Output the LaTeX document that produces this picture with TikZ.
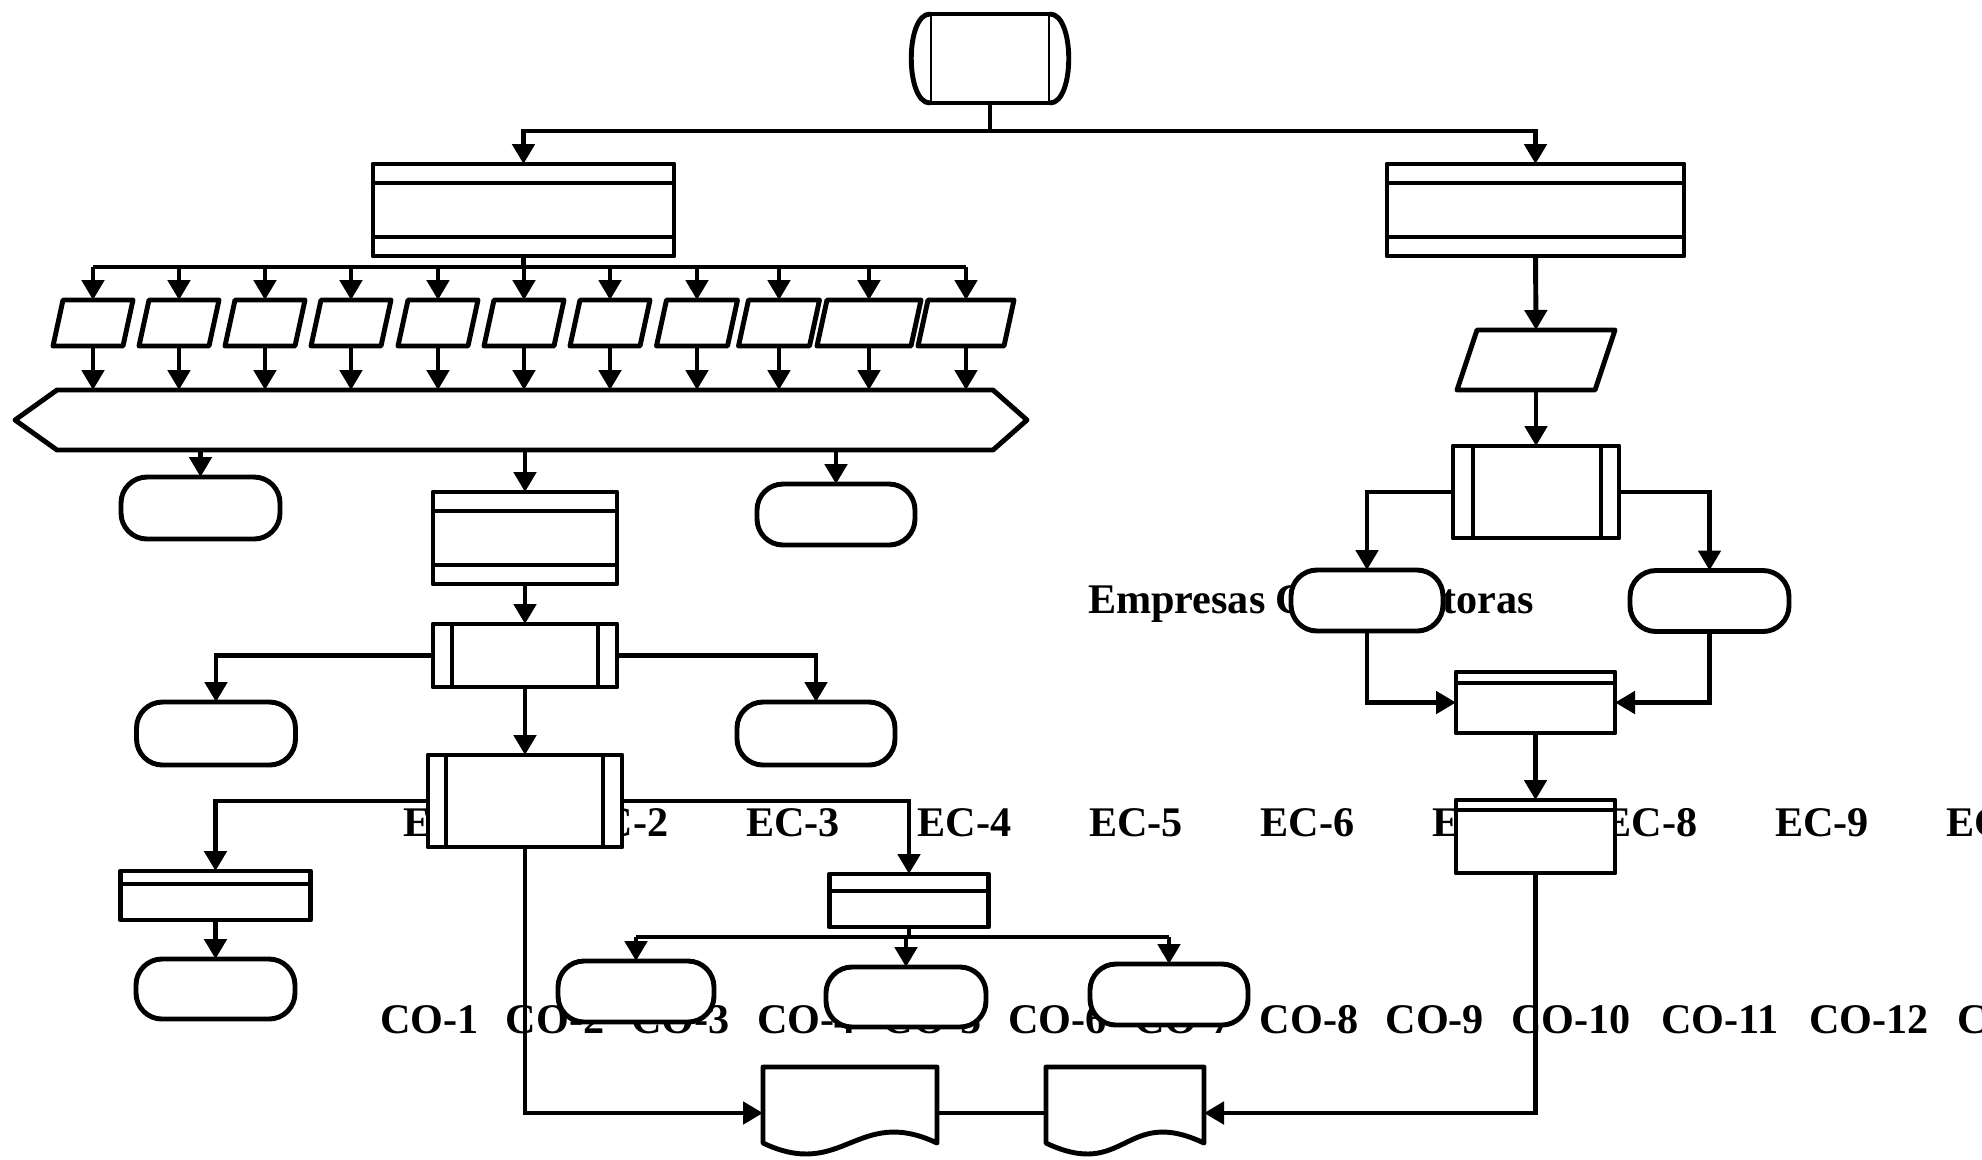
\documentclass[tikz,border=0pt]{standalone}
\usepackage{fontspec}
\setmainfont{Liberation Serif}
\usetikzlibrary{arrows.meta,calc}
\newcommand\lblfont{\bfseries\fontsize{12pt}{14pt}\selectfont}
\begin{document}
\begin{tikzpicture}[x=0.01cm,y=-0.01cm,
  ln/.style={line width=1.4pt},
  shp/.style={draw, fill=white, line width=1.4pt, line join=round, inner sep=0pt, outer sep=0pt, rectangle},
  term/.style={shp, rounded corners=0.26cm},
  ghost/.style={inner sep=0pt, outer sep=0pt, rectangle, draw=none},
  sz/.style 2 args={minimum width=#1*0.01cm, minimum height=#2*0.01cm},
  arr/.style={line width=1.4pt, -{Triangle[width=0.22cm,length=0.2cm]}},
  lbl/.style={inner sep=0pt, outer sep=0pt, anchor=base west, font=\lblfont},
  outl/.style={line width=1.4pt, line join=round, draw, fill=white}]
\useasboundingbox (0,0) rectangle (1982,1159);
\clip (0,0) rectangle (1982,1159);
\fill[white] (0,0) rectangle (1982,1159);

% ---------- background texts ----------
\foreach \i/\x in {1/403,2/574.5,3/746,4/917.5,5/1089,6/1260.5,7/1432,8/1603.5,9/1775,10/1946.5}
  \node[lbl] (ec\i) at (\x,836) {EC-\i};
\foreach \i/\x in {1/380,2/505.7,3/631.4,4/757.1,5/882.8,6/1008.5,7/1134.2,8/1259.9,9/1385.6,10/1511.3,11/1661,12/1809,13/1957}
  \node[lbl] (co\i) at (\x,1033) {CO-\i};
\node[lbl] (emp) at (1088,613) {Empresas Constructoras};

% ---------- shapes ----------
% top storage-like shape
\node[shp, sz={120}{89}] (T) at (990,58.5) {};
\draw[outl] (T.north west) .. controls +(-25,0) and +(-25,0) .. (T.south west);
\draw[outl] (T.north east) .. controls +(25,0) and +(25,0) .. (T.south east);

% big boxes A and B
\node[shp, sz={301}{92}] (A) at (523.5,210) {};
\node[shp, sz={297}{92}] (B) at (1535.5,210) {};
\foreach \n in {A,B}{
  \draw[ln] ($(\n.north west)+(0,19)$) -- ($(\n.north east)+(0,19)$);
  \draw[ln] ($(\n.south west)+(0,-19)$) -- ($(\n.south east)+(0,-19)$);
}

% parallelograms
\foreach \i/\x/\w in {1/93/80,2/179/80,3/265/80,4/351/80,5/438/80,6/524/80,7/610/80,8/697/81,9/779/81,10/869/104,11/966/96}{
  \node[ghost, sz={\w}{46}] (p\i) at (\x,323) {};
  \draw[outl] (p\i.south west) -- ($(p\i.north west)+(10,0)$) -- (p\i.north east) -- ($(p\i.south east)+(-10,0)$) -- cycle;
}

% hexagon
\node[ghost, sz={936}{60}] (hex) at (525,420) {};
\draw[outl] (hex.north west) -- (hex.north east) -- ($(hex.east)+(34,0)$) -- (hex.south east) -- (hex.south west) -- ($(hex.west)+(-42,0)$) -- cycle;

% terminators left side
\node[term, sz={159}{62}] (L1) at (200.5,508) {};
\node[term, sz={158}{61}] (R1) at (836,514.5) {};
\node[term, sz={159}{63}] (L2) at (216,733.5) {};
\node[term, sz={158}{63}] (R2) at (816,733.5) {};
\node[term, sz={159}{60}] (L3) at (215.5,989) {};
\node[term, sz={156}{61}] (G1) at (636,991.5) {};
\node[term, sz={160}{60}] (G2) at (906,997) {};
\node[term, sz={158}{61}] (G3) at (1169,994.5) {};

% box C
\node[shp, sz={184}{92}] (C) at (525,538) {};
\draw[ln] ($(C.north west)+(0,19)$) -- ($(C.north east)+(0,19)$);
\draw[ln] ($(C.south west)+(0,-19)$) -- ($(C.south east)+(0,-19)$);

% predefined processes D and E
\node[shp, sz={184}{63}] (D) at (525,655.5) {};
\draw[ln] ($(D.north west)+(19,0)$) -- ($(D.south west)+(19,0)$);
\draw[ln] ($(D.north east)+(-19,0)$) -- ($(D.south east)+(-19,0)$);
\node[shp, sz={194}{92}] (E) at (525,801) {};
\draw[ln] ($(E.north west)+(18,0)$) -- ($(E.south west)+(18,0)$);
\draw[ln] ($(E.north east)+(-19,0)$) -- ($(E.south east)+(-19,0)$);

% boxes F and G
\node[shp, sz={190}{49}] (F) at (215.5,895.5) {};
\draw[ln] ($(F.north west)+(0,13)$) -- ($(F.north east)+(0,13)$);
\node[shp, sz={159}{53}] (G) at (909,900.5) {};
\draw[ln] ($(G.north west)+(0,17)$) -- ($(G.north east)+(0,17)$);

% documents
\node[ghost, sz={174}{92}] (H) at (850,1113) {};
\node[ghost, sz={158}{92}] (I) at (1125,1113) {};
\foreach \n in {H,I}{
  \draw[outl] (\n.north west) -- ($(\n.north west)+(0,76)$)
    .. controls +(80,38) and +(-80,-38) .. ($(\n.north east)+(0,76)$) -- (\n.north east) -- cycle;
}

% right branch
\node[ghost, sz={158}{60}] (P) at (1536,360) {};
\draw[outl] (P.south west) -- ($(P.north west)+(20,0)$) -- (P.north east) -- ($(P.south east)+(-20,0)$) -- cycle;
\node[shp, sz={166}{92}] (Q) at (1536,492) {};
\draw[ln] ($(Q.north west)+(20,0)$) -- ($(Q.south west)+(20,0)$);
\draw[ln] ($(Q.north east)+(-18,0)$) -- ($(Q.south east)+(-18,0)$);
\node[term, sz={152}{61}] (TR1) at (1367,600.5) {};
\node[term, sz={159}{61}] (TR2) at (1709.5,601) {};
\node[shp, sz={159}{61}] (R) at (1535.5,702.5) {};
\draw[ln] ($(R.north west)+(0,11)$) -- ($(R.north east)+(0,11)$);
\node[shp, sz={159}{73}] (S) at (1535.5,836.5) {};
\draw[ln] ($(S.north west)+(0,10)$) -- ($(S.north east)+(0,10)$);

% ---------- connectors ----------
\coordinate (j0) at (990,131);
\draw[ln] (T.south) -- (j0);
\draw[arr] (j0) -| (A.north);
\draw[arr] (j0) -| (B.north);

\coordinate (j1) at (524,267);
\draw[ln] (A.south) -- (A.south |- j1);
\draw[ln] (p1.north |- j1) -- (p11.north |- j1);
\foreach \i in {1,...,11}{
  \draw[arr] (p\i.north |- j1) -- (p\i.north);
  \draw[arr] (p\i.south) -- (p\i.south |- hex.north);
}

\draw[arr] (L1.north |- hex.south) -- (L1.north);
\draw[arr] (C.north |- hex.south) -- (C.north);
\draw[arr] (R1.north |- hex.south) -- (R1.north);

\draw[arr] (C.south) -- (D.north);
\draw[arr] (D.west) -| (L2.north);
\draw[arr] (D.east) -| (R2.north);
\draw[arr] (D.south) -- (E.north);
\draw[arr] (E.west) -| (F.north);
\draw[arr] (E.east) -| (G.north);
\draw[arr] (F.south) -- (L3.north);

\coordinate (j2) at (909,937);
\draw[ln] (G.south) -- (j2);
\draw[ln] (G1.north |- j2) -- (G3.north |- j2);
\draw[arr] (G1.north |- j2) -- (G1.north);
\draw[arr] (G2.north |- j2) -- (G2.north);
\draw[arr] (G3.north |- j2) -- (G3.north);

\draw[arr] (E.south) |- (H.west);
\draw[ln] (H.east) -- (I.west);

\draw[arr] (B.south) -- (P.north);
\draw[arr] (P.south) -- (Q.north);
\draw[arr] (Q.west) -| (TR1.north);
\draw[arr] (Q.east) -| (TR2.north);
\draw[arr] (TR1.south) |- (R.west);
\draw[arr] (TR2.south) |- (R.east);
\draw[arr] (R.south) -- (S.north);
\draw[arr] (S.south) |- (I.east);
\end{tikzpicture}
\end{document}
